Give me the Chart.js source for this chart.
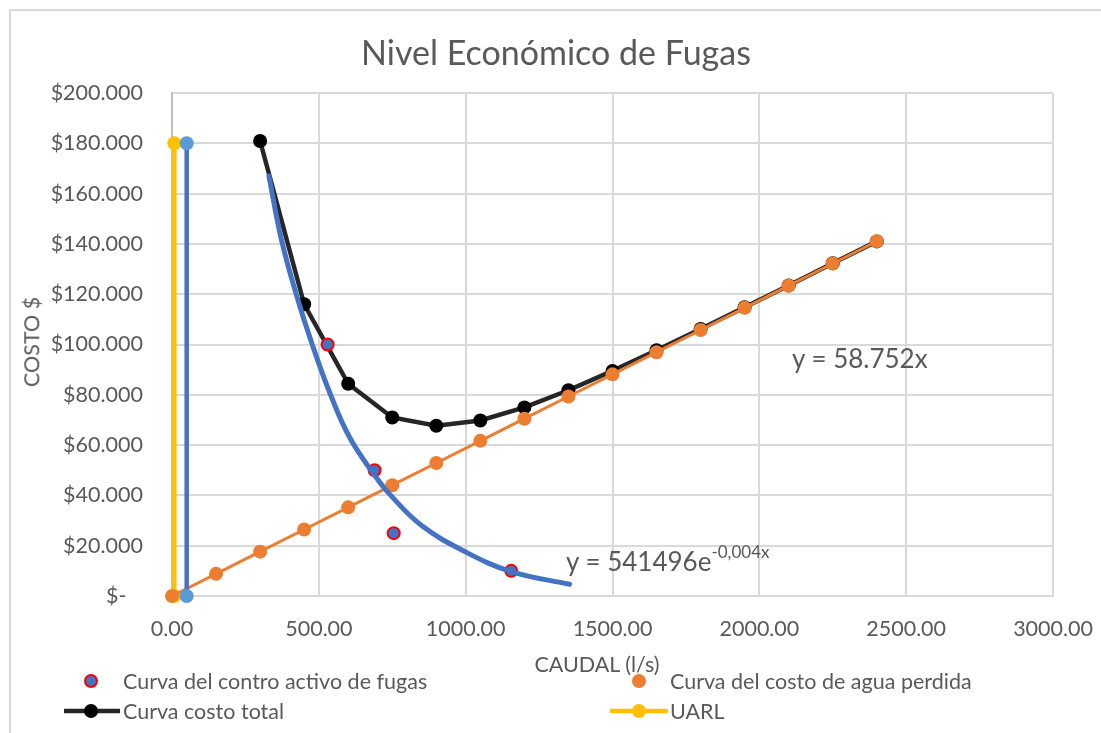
<!DOCTYPE html>
<html>
<head>
<meta charset="utf-8">
<title>Nivel Económico de Fugas</title>
<script src="https://cdn.jsdelivr.net/npm/chart.js@4/dist/chart.umd.min.js"></script>
<style>
  body { margin: 0; background: #fff; font-family: Lato, "Open Sans", sans-serif; color: #595959; }
  #wrap { position: relative; width: 1101px; height: 733px; overflow: hidden; }
  #frame { position: absolute; left: 9px; top: 9px; width: 1200px; height: 800px;
           border-left: 2px solid #d9d9d9; border-top: 2px solid #d9d9d9; }
  canvas { position: absolute; left: 0; top: 0; }
  .txt { position: absolute; white-space: nowrap; line-height: 1; }
  #title { left: 556px; top: 52px; font-size: 34px; transform: translate(-50%, -50%); }
  #ytitle { left: 32px; top: 342px; font-size: 21.5px; transform: translate(-50%, -50%) rotate(-90deg); }
  #xtitle { left: 597px; top: 665px; font-size: 21.5px; transform: translate(-50%, -50%); }
  .eq { font-size: 26px; transform: translateY(-50%); }
  .eq sup { font-size: 17px; position: relative; top: -3px; }
  .leg { position: absolute; display: flex; align-items: center; font-size: 21.5px; transform: translateY(-50%); }
  .leg svg { flex: none; }
</style>
</head>
<body>
<div id="wrap">
  <div id="frame"></div>
  <canvas id="chart" width="1101" height="733"></canvas>
  <div class="txt" id="title">Nivel Económico de Fugas</div>
  <div class="txt" id="ytitle">COSTO $</div>
  <div class="txt" id="xtitle">CAUDAL (l/s)</div>
  <div class="txt eq" style="left:792px; top:358px;">y = 58.752x</div>
  <div class="txt eq" style="left:566px; top:560px;">y = 541496e<sup>-0,004x</sup></div>

  <div class="leg" style="left:83px; top:681px;">
    <svg width="16" height="16"><circle cx="8" cy="8" r="6" fill="#4472C4" stroke="#FF0000" stroke-width="2"/></svg>
    <span style="margin-left:24px">Curva del contro activo de fugas</span>
  </div>
  <div class="leg" style="left:631px; top:681px;">
    <svg width="16" height="16"><circle cx="8" cy="8" r="7" fill="#ED7D31"/></svg>
    <span style="margin-left:23px">Curva del costo de agua perdida</span>
  </div>
  <div class="leg" style="left:64px; top:711px;">
    <svg width="56" height="16"><line x1="1" y1="8" x2="55" y2="8" stroke="#262626" stroke-width="4.5" stroke-linecap="round"/><circle cx="27" cy="8" r="7" fill="#000"/></svg>
    <span style="margin-left:3px">Curva costo total</span>
  </div>
  <div class="leg" style="left:610px; top:711px;">
    <svg width="58" height="16"><line x1="1" y1="8" x2="56" y2="8" stroke="#FFC000" stroke-width="4.5" stroke-linecap="round"/><circle cx="29" cy="8" r="7" fill="#FFC000"/></svg>
    <span style="margin-left:2px">UARL</span>
  </div>
</div>

<script>
// Values

// Curva del costo de agua perdida (orange)
const caudalAgua = [0, 150, 300, 450, 600, 750, 900, 1050, 1200, 1350, 1500, 1650, 1800, 1950, 2100, 2250, 2400];
const costoAgua = [0, 8813, 17626, 26439, 35252, 44064, 52877, 61690, 70503, 79316, 88129, 96941, 105754, 114567, 123380, 132193, 141005];

// Curva costo total (black)
const caudalTotal = [300, 450, 600, 750, 900, 1050, 1200, 1350, 1500, 1650, 1800, 1950, 2100, 2250, 2400];
const costoTotal = [180900, 116000, 84400, 71000, 67700, 69800, 75000, 81800, 89500, 97700, 106200, 114800, 123500, 132300, 141000];

// Curva del contro activo de fugas (points)
const caudalControl = [530, 690, 755, 1155];
const costoControl = [100000, 50000, 25000, 10000];

// Exponential trend line, sampled along the drawn curve
const caudalTendencia = [330, 372, 423, 479, 540, 605, 690, 741, 850, 1000, 1155, 1354];
const costoTendencia = [167000, 142000, 120000, 99500, 80000, 63000, 48000, 40500, 28000, 17500, 9700, 4650];

// UARL (yellow) and the second vertical marker (light blue)
const caudalUarl = [8, 8];
const costoUarl = [180000, 0];
const caudalVertical = [50, 50];
const costoVertical = [180000, 0];

// Tick labels
const xTickLabels = ['0,00', '500,00', '1000,00', '1500,00', '2000,00', '2500,00', '3000,00'];
const yTickLabels = ['$-   ', '$20.000', '$40.000', '$60.000', '$80.000', '$100.000', '$120.000', '$140.000', '$160.000', '$180.000', '$200.000'];

function toPoints(xs, ys) {
  return xs.map((x, i) => ({ x: x, y: ys[i] }));
}

const tickFont = { family: 'Lato', size: 21.5 };

new Chart(document.getElementById('chart'), {
  type: 'scatter',
  data: {
    datasets: [
      {
        label: 'Curva costo total',
        data: toPoints(caudalTotal, costoTotal),
        showLine: true,
        borderColor: '#262626',
        borderWidth: 4.5,
        pointRadius: 7,
        pointBackgroundColor: '#000',
        pointBorderWidth: 0,
        order: 6
      },
      {
        label: 'UARL',
        data: toPoints(caudalUarl, costoUarl),
        showLine: true,
        borderColor: '#FFC000',
        borderWidth: 4.5,
        pointRadius: 7,
        pointBackgroundColor: '#FFC000',
        pointBorderWidth: 0,
        order: 5
      },
      {
        label: 'Curva del costo de agua perdida',
        data: toPoints(caudalAgua, costoAgua),
        showLine: true,
        borderColor: '#ED7D31',
        borderWidth: 3,
        pointRadius: 7,
        pointBackgroundColor: '#ED7D31',
        pointBorderWidth: 0,
        order: 4
      },
      {
        label: 'vertical',
        data: toPoints(caudalVertical, costoVertical),
        showLine: true,
        borderColor: '#4472C4',
        borderWidth: 4.5,
        pointRadius: 7,
        pointBackgroundColor: '#5B9BD5',
        pointBorderWidth: 0,
        order: 3
      },
      {
        label: 'Curva del contro activo de fugas',
        data: toPoints(caudalControl, costoControl),
        showLine: false,
        pointRadius: 6,
        pointBackgroundColor: '#4472C4',
        pointBorderColor: '#FF0000',
        pointBorderWidth: 2,
        order: 2
      },
      {
        label: 'Tendencia',
        data: toPoints(caudalTendencia, costoTendencia),
        showLine: true,
        borderColor: '#4472C4',
        borderWidth: 5,
        borderCapStyle: 'round',
        tension: 0.4,
        pointRadius: 0,
        order: 1
      }
    ]
  },
  options: {
    responsive: false,
    animation: false,
    clip: false,
    layout: { padding: { top: 93, right: 48, bottom: 97, left: 0 } },
    plugins: {
      legend: { display: false },
      title: { display: false },
      tooltip: { enabled: false }
    },
    scales: {
      x: {
        type: 'linear',
        min: 0,
        max: 3000,
        afterFit: scale => {
          scale.height = 40;
          scale.paddingLeft = 0;
          scale.paddingRight = 0;
        },
        ticks: {
          stepSize: 500,
          padding: 20,
          color: '#595959',
          font: tickFont,
          maxRotation: 0,
          callback: (value, index) => xTickLabels[index]
        },
        grid: { color: '#d9d9d9', lineWidth: 2, drawTicks: false },
        border: { color: '#d9d9d9', width: 2 }
      },
      y: {
        min: 0,
        max: 200000,
        afterFit: scale => {
          scale.width = 172;
          scale.paddingTop = 0;
          scale.paddingBottom = 0;
        },
        ticks: {
          stepSize: 20000,
          padding: 29,
          color: '#595959',
          font: tickFont,
          callback: (value, index) => yTickLabels[index]
        },
        grid: { color: '#d9d9d9', lineWidth: 2, drawTicks: false },
        border: { color: '#bfbfbf', width: 2 }
      }
    }
  }
});
</script>
</body>
</html>
